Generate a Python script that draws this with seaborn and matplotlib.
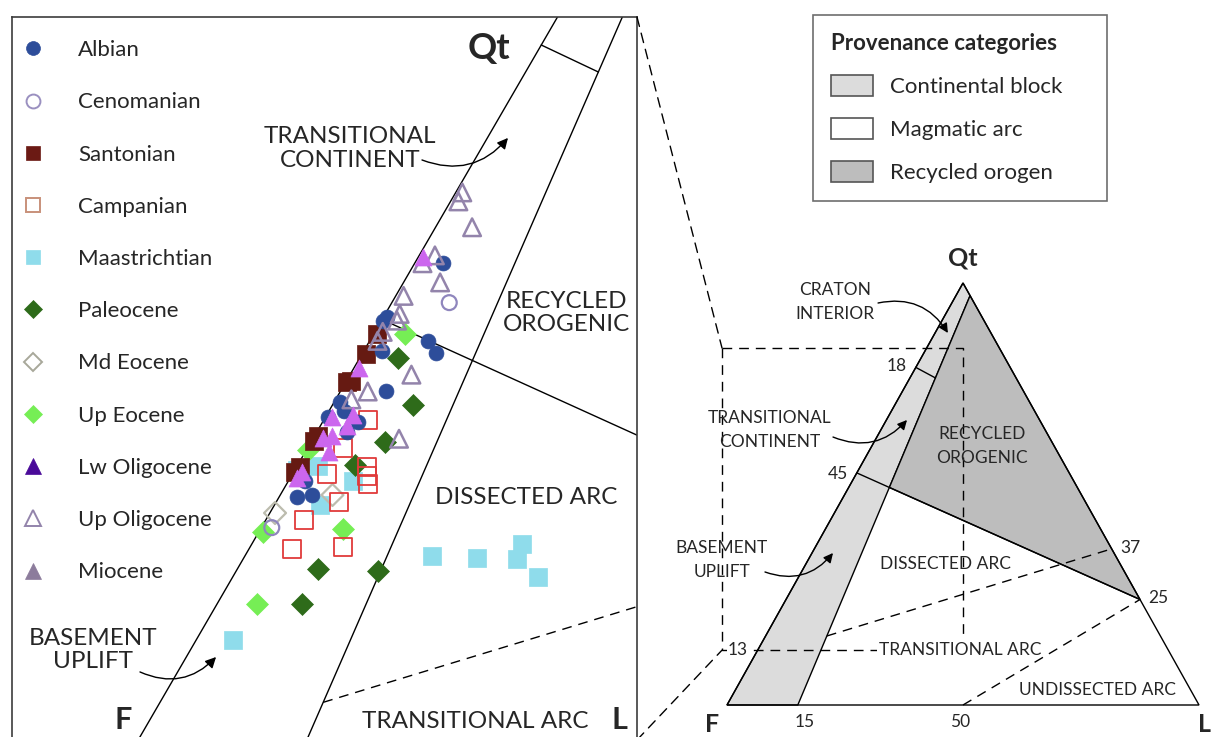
import matplotlib
matplotlib.use("Agg")
import numpy as np
import pandas as pd
import matplotlib.pyplot as plt
import seaborn as sns
from matplotlib.lines import Line2D
from matplotlib.patches import Patch, Polygon, ConnectionPatch

sns.set_theme(style="white")
plt.rcParams["font.family"] = ["Lato", "DejaVu Sans"]

# ---------------------------------------------------------------------------
# Modal compositions per stage: total quartz (Qt %) and lithics (L %);
# feldspar is the remainder, F = 100 - Qt - L.
# ---------------------------------------------------------------------------
albian_qt = [59.2, 54.4, 54.1, 52.3, 51.2, 51.4, 47.8, 46.9, 46.1, 45.5, 45.1, 44.2, 39.8, 38.4, 38.6]
albian_l = [2.2, 0.3, 0.1, 4.5, 5.6, 1.4, 3.5, 0.4, 1.1, 0.2, 2.7, 2.3, 1.3, 1.4, 2.4]
cenomanian_qt = [55.7, 35.7]
cenomanian_l = [4.4, 0.8]
santonian_qt = [52.9, 51.1, 48.7, 48.6, 43.8, 43.4, 41.1, 40.6]
santonian_l = [0.3, 0.3, 0.4, 0.1, 0.3, 0.2, 0.3, 0.1]
campanian_qt = [45.3, 42.8, 41.1, 40.5, 40.3, 39.6, 38.0, 36.4, 33.8, 34.0]
campanian_l = [3.4, 2.7, 5.4, 2.6, 5.8, 6.2, 4.8, 2.9, 3.3, 7.1]
maastrichtian_qt = [33.2, 33.0, 34.2, 32.9, 31.3, 25.7, 41.2, 39.8, 37.7, 40.8]
maastrichtian_l = [14.3, 17.9, 20.7, 21.0, 23.4, 2.8, 1.6, 5.0, 3.5, 0.2]
paleocene_qt = [50.8, 46.6, 43.3, 41.3, 32.0, 31.8, 28.9]
paleocene_l = [2.9, 6.2, 5.7, 4.4, 6.2, 10.9, 6.5]
md_eocene_qt = [38.6, 37.0]
md_eocene_l = [4.0, 0.4]
up_eocene_qt = [52.9, 42.6, 35.3, 35.6, 28.9]
up_eocene_l = [2.4, 0.1, 0.3, 6.3, 3.1]
lw_oligocene_qt = [59.8, 49.9, 45.7, 45.5, 44.7, 43.7, 43.8, 42.4, 40.6, 40.1]
lw_oligocene_l = [0.3, 0.4, 2.0, 0.5, 2.1, 0.7, 1.4, 1.8, 0.7, 0.5]
up_oligocene_qt = [65.5, 64.7, 62.4, 59.9, 59.2, 57.5, 56.3, 54.7, 54.1, 53.1, 52.3, 49.3, 47.8, 47.1, 43.6]
up_oligocene_l = [0.5, 0.6, 2.8, 1.2, 0.6, 2.8, 0.6, 1.1, 1.2, 0.6, 0.6, 4.7, 2.1, 1.2, 6.6]
miocene_qt = []
miocene_l = []

stages = ["Albian", "Cenomanian", "Santonian", "Campanian", "Maastrichtian", "Paleocene",
          "Md Eocene", "Up Eocene", "Lw Oligocene", "Up Oligocene", "Miocene"]
stage_qt = [albian_qt, cenomanian_qt, santonian_qt, campanian_qt, maastrichtian_qt, paleocene_qt,
            md_eocene_qt, up_eocene_qt, lw_oligocene_qt, up_oligocene_qt, miocene_qt]
stage_l = [albian_l, cenomanian_l, santonian_l, campanian_l, maastrichtian_l, paleocene_l,
           md_eocene_l, up_eocene_l, lw_oligocene_l, up_oligocene_l, miocene_l]

# Provenance field boundaries (Dickinson QFL), in percent
CB_BASE_L = 15      # continental block / arc boundary on the F-L side
CB_TOP_QT = 97      # same boundary reaching the Qt-L side
CI_QF_QT, CI_CB_QT = 80, 77.5          # craton interior limit
RO_QF_QT, RO_QL_QT = 55, 25            # recycled orogen / dissected arc
DA_QF_QT, DA_QL_QT = 11, 37            # dissected / transitional arc
TA_BASE_L, TA_QL_QT = 50, 25           # transitional / undissected arc
ZOOM_QT = (13, 84.6)                   # enlarged window, Qt range
ZOOM_X = (-1.06, 50)

# Boundaries as traced in the enlarged plot
ZL_CI = (78.6, 76.2)
ZL_RO = (54.2, 21.5)
ZL_DA = (14.8, 40.4)

provenance = ["Continental block", "Magmatic arc", "Recycled orogen"]
provenance_fill = ["#dcdcdc", "#ffffff", "#bdbdbd"]


def tern(qt, l):
    """Ternary (Qt, L) -> cartesian with F at origin and L at (100, 0)."""
    qt = np.asarray(qt, float)
    l = np.asarray(l, float)
    return l + qt / 2.0, qt


def on_qf(qt):
    return qt / 2.0, qt


def on_ql(qt):
    return 100 - qt / 2.0, qt


def on_fl(l):
    return float(l), 0.0


def on_cb(qt):
    """Point of the continental-block boundary at a given Qt."""
    top = on_ql(CB_TOP_QT)
    return CB_BASE_L + (top[0] - CB_BASE_L) * qt / CB_TOP_QT, qt


def intersect(p1, p2, p3, p4):
    x1, y1 = p1; x2, y2 = p2; x3, y3 = p3; x4, y4 = p4
    d = (x1 - x2) * (y3 - y4) - (y1 - y2) * (x3 - x4)
    a = x1 * y2 - y1 * x2
    b = x3 * y4 - y3 * x4
    return ((a * (x3 - x4) - (x1 - x2) * b) / d, (a * (y3 - y4) - (y1 - y2) * b) / d)


rows = []
for name, qs, ls in zip(stages, stage_qt, stage_l):
    for q, l in zip(qs, ls):
        rows.append({"stage": name, "Qt": q, "L": l, "F": 100 - q - l})
df = pd.DataFrame(rows)
df["x"], df["y"] = tern(df["Qt"], df["L"])

# marker, face, edge, size, linewidth for the samples
sample_style = {
    "Maastrichtian": ("s", "#8fdceb", "#8fdceb", 170, 0.5),
    "Paleocene": ("D", "#2e6b1a", "#2e6b1a", 125, 0.5),
    "Up Eocene": ("D", "#76ee55", "#76ee55", 125, 0.5),
    "Md Eocene": ("D", "none", "#bcbcae", 125, 1.6),
    "Cenomanian": ("o", "none", "#8f86bd", 115, 1.6),
    "Campanian": ("s", "none", "#e03a3a", 170, 1.3),
    "Santonian": ("s", "#661a12", "#661a12", 170, 0.5),
    "Albian": ("o", "#2d4d9a", "#2d4d9a", 115, 0.5),
    "Up Oligocene": ("^", "none", "#9384ab", 160, 1.8),
    "Lw Oligocene": ("^", "#cc66ee", "#cc66ee", 150, 0.5),
    "Miocene": ("^", "#8b7b9c", "#8b7b9c", 150, 0.5),
}
# marker, face, edge, size for the stage key
key_style = {
    "Albian": ("o", "#2d4d9a", "#2d4d9a", 10),
    "Cenomanian": ("o", "none", "#9a90c0", 10),
    "Santonian": ("s", "#6b1a14", "#6b1a14", 10),
    "Campanian": ("s", "none", "#c8917a", 10),
    "Maastrichtian": ("s", "#8fdceb", "#8fdceb", 10),
    "Paleocene": ("D", "#2e6b1a", "#2e6b1a", 9.5),
    "Md Eocene": ("D", "none", "#a8a89a", 9.5),
    "Up Eocene": ("D", "#76ee55", "#76ee55", 9.5),
    "Lw Oligocene": ("^", "#4a0a99", "#4a0a99", 11),
    "Up Oligocene": ("^", "none", "#9384ab", 11),
    "Miocene": ("^", "#8c7c9c", "#8c7c9c", 11),
}

W, H = 1211, 737
fig = plt.figure(figsize=(W / 100, H / 100), dpi=100)
fig.patch.set_facecolor("white")


def px_box(x0, y0, x1, y1):
    return [x0 / W, (H - y1) / H, (x1 - x0) / W, (y1 - y0) / H]


axL = fig.add_axes(px_box(12, 17, 637, 740))
axR = fig.add_axes(px_box(700, 240, 1211, 737))

LW = 1.0
DASH = (0, (7, 5))

# ------------------------------ enlarged plot ------------------------------
edge_qf = [on_qf(0), on_qf(100)]
cb_line = [on_fl(CB_BASE_L), on_ql(CB_TOP_QT)]
for seg in (edge_qf, cb_line):
    axL.plot([seg[0][0], seg[1][0]], [seg[0][1], seg[1][1]], color="black", lw=LW, zorder=1)

ci_a, ci_b = on_qf(ZL_CI[0]), on_cb(ZL_CI[1])
axL.plot([ci_a[0], ci_b[0]], [ci_a[1], ci_b[1]], color="black", lw=LW, zorder=1)

ro_a, ro_b = on_qf(ZL_RO[0]), on_ql(ZL_RO[1])
axL.plot([ro_a[0], ro_b[0]], [ro_a[1], ro_b[1]], color="black", lw=LW, zorder=1)

da_a = intersect(on_qf(ZL_DA[0]), on_ql(ZL_DA[1]), cb_line[0], cb_line[1])
da_b = on_ql(ZL_DA[1])
axL.plot([da_a[0], da_b[0]], [da_a[1], da_b[1]], color="black", lw=LW, ls=DASH, zorder=1)

for i, stage in enumerate(["Maastrichtian", "Paleocene", "Up Eocene", "Md Eocene", "Cenomanian",
                           "Campanian", "Santonian", "Albian", "Up Oligocene", "Lw Oligocene",
                           "Miocene"]):
    sub = df[df["stage"] == stage]
    if sub.empty:
        continue
    mk, fc, ec, s, lw = sample_style[stage]
    sns.scatterplot(data=sub, x="x", y="y", ax=axL, marker=mk, s=s, color=ec,
                    facecolor=fc, edgecolor=ec, linewidth=lw, legend=False, zorder=3 + i)

axL.set_xlim(-1.257, 46.636)
axL.set_ylim(16.822, 81.089)
axL.set_xlabel("")
axL.set_ylabel("")
axL.set_xticks([])
axL.set_yticks([])
for sp in axL.spines.values():
    sp.set_color("#3c3c3c")
    sp.set_linewidth(1.2)

big = 17.5
axL.text(35.3, 78.3, "Qt", fontsize=26, fontweight="bold", ha="center", va="center")
axL.text(7.25, 18.6, "F", fontsize=22, fontweight="bold", ha="center", va="center")
axL.text(45.3, 18.6, "L", fontsize=22, fontweight="bold", ha="center", va="center")
axL.text(24.64, 69.4, "TRANSITIONAL\nCONTINENT", fontsize=big, ha="center", va="center",
         linespacing=1.12)
axL.text(41.27, 54.78, "RECYCLED\nOROGENIC", fontsize=big, ha="center", va="center",
         linespacing=1.12)
axL.text(38.13, 38.42, "DISSECTED ARC", fontsize=big, ha="center", va="center")
axL.text(4.95, 24.82, "BASEMENT\nUPLIFT", fontsize=big, ha="center", va="center",
         linespacing=1.12)
axL.text(34.22, 18.43, "TRANSITIONAL ARC", fontsize=big, ha="center", va="center")

arrow_kw = dict(arrowstyle="-|>", color="black", lw=1.0, mutation_scale=16, shrinkA=0, shrinkB=0)
axL.annotate("", xy=(36.75, 70.34), xytext=(30.16, 68.38),
             arrowprops=dict(connectionstyle="arc3,rad=0.35", **arrow_kw))
axL.annotate("", xy=(14.38, 24.20), xytext=(8.55, 22.87),
             arrowprops=dict(connectionstyle="arc3,rad=0.35", **arrow_kw))

handles = []
for stage in stages:
    mk, fc, ec, ms = key_style[stage]
    handles.append(Line2D([], [], ls="none", marker=mk, markersize=ms, markerfacecolor=fc,
                          markeredgecolor=ec, markeredgewidth=1.4 if fc == "none" else 0.5))
axL.legend(handles, stages, loc="upper left", bbox_to_anchor=(0.0158, 0.968), frameon=False,
           fontsize=16, labelspacing=1.45, handlelength=1.0, handletextpad=1.53,
           borderpad=0, borderaxespad=0)

# ------------------------------ full diagram ------------------------------
F0, L0, Q0 = on_fl(0), on_fl(100), on_qf(100)
cb_top = on_ql(CB_TOP_QT)
ro_cb = intersect(on_qf(RO_QF_QT), on_ql(RO_QL_QT), on_fl(CB_BASE_L), cb_top)

axR.add_patch(Polygon([F0, on_fl(CB_BASE_L), cb_top, Q0], closed=True,
                      facecolor=provenance_fill[0], edgecolor="black", lw=LW, zorder=0.5))
axR.add_patch(Polygon([ro_cb, cb_top, on_ql(RO_QL_QT)], closed=True,
                      facecolor=provenance_fill[2], edgecolor="black", lw=LW, zorder=0.5))
axR.add_patch(Polygon([F0, L0, Q0], closed=True, fill=False, edgecolor="black", lw=LW,
                      zorder=0.6))

ci_r_a, ci_r_b = on_qf(CI_QF_QT), on_cb(CI_CB_QT)
axR.plot([ci_r_a[0], ci_r_b[0]], [ci_r_a[1], ci_r_b[1]], color="black", lw=LW, zorder=1)
ro_r_a, ro_r_b = on_qf(RO_QF_QT), on_ql(RO_QL_QT)
axR.plot([ro_r_a[0], ro_r_b[0]], [ro_r_a[1], ro_r_b[1]], color="black", lw=LW, zorder=1)
da_r_a = intersect(on_qf(DA_QF_QT), on_ql(DA_QL_QT), on_fl(CB_BASE_L), cb_top)
da_r_b = on_ql(DA_QL_QT)
axR.plot([da_r_a[0], da_r_b[0]], [da_r_a[1], da_r_b[1]], color="black", lw=LW, ls=DASH, zorder=1)
ta_a, ta_b = on_fl(TA_BASE_L), on_ql(TA_QL_QT)
axR.plot([ta_a[0], ta_b[0]], [ta_a[1], ta_b[1]], color="black", lw=LW, ls=DASH, zorder=4)

# enlarged window outline
zx0, zx1 = ZOOM_X
zy0, zy1 = ZOOM_QT
axR.plot([zx0, zx1, zx1], [zy1, zy1, zy0], color="black", lw=LW, ls=DASH, zorder=1)
axR.plot([zx0, zx0, zx1], [zy1, zy0, zy0], color="black", lw=LW, ls=DASH, zorder=1)

axR.set_xlim(-5.72, 102.54)
axR.set_ylim(-7.583, 110.19)
axR.axis("off")

sm = 12.5
ls2 = 1.62
axR.text(50.0, 105.9, "Qt", fontsize=18, fontweight="bold", ha="center", va="center")
axR.text(-3.18, -4.6, "F", fontsize=18, fontweight="bold", ha="center", va="center")
axR.text(101.2, -4.6, "L", fontsize=18, fontweight="bold", ha="center", va="center")
axR.text(22.88, 95.5, "CRATON\nINTERIOR", fontsize=sm, ha="center", va="center", linespacing=ls2)
axR.text(9.11, 65.17, "TRANSITIONAL\nCONTINENT", fontsize=sm, ha="center", va="center",
         linespacing=ls2)
axR.text(54.0, 61.37, "RECYCLED\nOROGENIC", fontsize=sm, ha="center", va="center",
         linespacing=ls2)
axR.text(-1.06, 34.36, "BASEMENT\nUPLIFT", fontsize=sm, ha="center", va="center",
         linespacing=ls2)
axR.text(46.19, 33.41, "DISSECTED ARC", fontsize=sm, ha="center", va="center", zorder=3)
axR.text(49.36, 13.03, "TRANSITIONAL ARC", fontsize=sm, ha="center", va="center", zorder=3,
         bbox=dict(facecolor="white", edgecolor="none", pad=1.5))
axR.text(78.39, 3.55, "UNDISSECTED ARC", fontsize=sm, ha="center", va="center")
for txt, xx, yy in [("18", 36.0, 80.3), ("45", 23.5, 54.7), ("13", 2.33, 13.03),
                    ("37", 85.38, 37.2), ("25", 91.31, 25.36), ("15", 16.5, -4.0),
                    ("50", 49.4, -4.0)]:
    axR.text(xx, yy, txt, fontsize=sm, ha="center", va="center", zorder=3,
             bbox=dict(facecolor="white", edgecolor="none", pad=0.5) if txt == "13" else None)

arrow_kw_s = dict(arrowstyle="-|>", color="black", lw=1.0, mutation_scale=14, shrinkA=0, shrinkB=0)
axR.annotate("", xy=(46.8, 88.15), xytext=(32.0, 95.26),
             arrowprops=dict(connectionstyle="arc3,rad=-0.35", **arrow_kw_s))
axR.annotate("", xy=(38.14, 67.54), xytext=(22.46, 63.5),
             arrowprops=dict(connectionstyle="arc3,rad=0.35", **arrow_kw_s))
axR.annotate("", xy=(22.46, 36.02), xytext=(8.05, 31.52),
             arrowprops=dict(connectionstyle="arc3,rad=0.35", **arrow_kw_s))

# guide lines from the enlarged plot to its window
for (ax_corner, win_corner) in [((1, 1), (zx0, zy1)), ((1, 0), (zx0, zy0))]:
    con = ConnectionPatch(xyA=ax_corner, coordsA=axL.transAxes, xyB=win_corner,
                          coordsB=axR.transData, color="black", lw=LW, ls=DASH)
    fig.add_artist(con)

# provenance key
patches = [Patch(facecolor=c, edgecolor="#555555", lw=1.2) for c in provenance_fill]
leg = fig.legend(patches, provenance, loc="upper left",
                 bbox_to_anchor=(813 / W, (H - 203) / H, 294 / W, 188 / H), mode="expand",
                 title="Provenance categories", alignment="left", fontsize=16,
                 title_fontproperties={"weight": "bold", "size": 16},
                 handlelength=1.9, handleheight=1.08, handletextpad=0.77, labelspacing=0.95,
                 borderpad=0.8, borderaxespad=0, frameon=True, fancybox=False,
                 edgecolor="#6e6e6e", framealpha=1)
leg.get_frame().set_linewidth(1.2)

fig.canvas.draw()
tb = leg.get_title().get_window_extent()
fig.add_artist(Line2D([tb.x0 / W, tb.x1 / W], [(tb.y0 - 1) / H, (tb.y0 - 1) / H],
                      transform=fig.transFigure, color="black", lw=1.2))

fig.savefig("out.png", dpi=100)
